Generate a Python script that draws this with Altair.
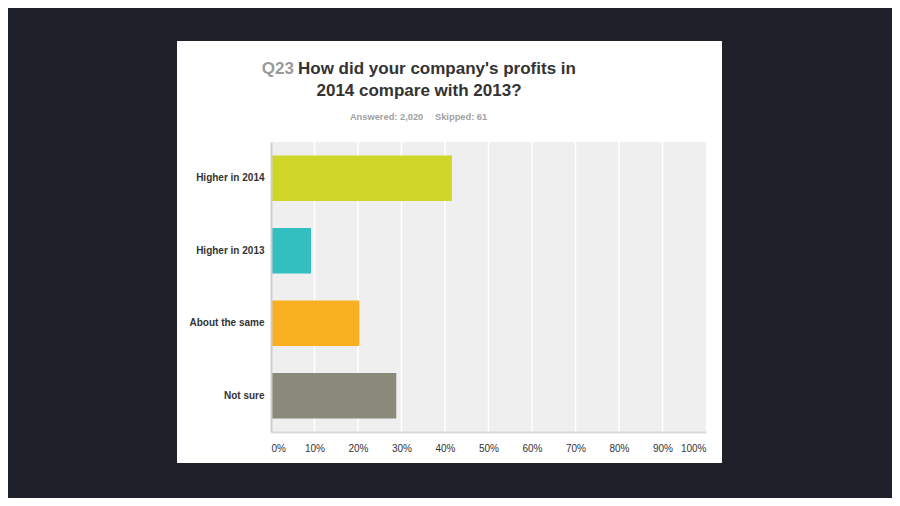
import altair as alt
import pandas as pd

# ---- data ----
categories = ["Higher in 2014", "Higher in 2013", "About the same", "Not sure"]
shares = [0.416, 0.092, 0.203, 0.288]
bar_colors = ["#d0d628", "#33bec0", "#f8b020", "#8a8a7b"]
grid_values = [0.1, 0.2, 0.3, 0.4, 0.5, 0.6, 0.7, 0.8, 0.9]
tick_values = [0.0, 0.1, 0.2, 0.3, 0.4, 0.5, 0.6, 0.7, 0.8, 0.9, 1.0]

title_q = "Q23"
title_line1 = "How did your company's profits in"
title_line2 = "2014 compare with 2013?"
answered = "Answered: 2,020"
skipped = "Skipped: 61"

FONT = "Liberation Sans, Arial, Helvetica, sans-serif"
W, H = 435, 290

bars_df = pd.DataFrame({"cat": categories, "val": shares})
grid_df = pd.DataFrame({"v": grid_values})
one = alt.Data(values=[{"a": 1}])

xscale = alt.Scale(domain=[0, 1], nice=False)
x_axis = alt.Axis(
    title=None, values=tick_values, format=".0%", labelFlush=True,
    ticks=False, grid=False, domain=True, domainColor="#d9d9d9",
    domainWidth=2, labelFontSize=10, labelColor="#333333",
    labelPadding=11, labelFont=FONT, zindex=1,
)

card = alt.Chart(one).mark_rect(color="#ffffff").encode(
    x=alt.value(-94), x2=alt.value(451), y=alt.value(-101), y2=alt.value(321)
)
plot_bg = alt.Chart(one).mark_rect(color="#efefef").encode(
    x=alt.value(0), x2=alt.value(W), y=alt.value(0), y2=alt.value(H)
)
grid = alt.Chart(grid_df).mark_rule(color="#ffffff", strokeWidth=1.5).encode(
    x=alt.X("v:Q", scale=xscale, axis=x_axis),
    y=alt.value(0),
    y2=alt.value(H),
)
bars = alt.Chart(bars_df).mark_bar().encode(
    y=alt.Y(
        "cat:N",
        sort=categories,
        scale=alt.Scale(paddingInner=0.37, paddingOuter=0.185),
        axis=alt.Axis(
            title=None, ticks=False, domain=True, domainColor="#cfcfcf",
            domainWidth=2, labelFontWeight="bold", labelFontSize=10,
            labelColor="#333333", labelPadding=7, labelFont=FONT, zindex=1,
        ),
    ),
    x=alt.X("val:Q", scale=xscale, axis=x_axis),
    color=alt.Color("cat:N", scale=alt.Scale(domain=categories, range=bar_colors), legend=None),
)


def txt(s, x, y, align, size, color, weight="bold"):
    return alt.Chart(alt.Data(values=[{"t": s}])).mark_text(
        align=align, baseline="alphabetic", fontSize=size, fontWeight=weight,
        color=color, font=FONT,
    ).encode(text="t:N", x=alt.value(x), y=alt.value(y))


titles = [
    txt(title_q, 23, -68, "right", 17, "#9a9a9a"),
    txt(title_line1, 27, -68, "left", 17, "#333333"),
    txt(title_line2, 148, -46, "center", 17, "#333333"),
    txt(answered, 152.3, -21.7, "right", 9.3, "#9f9f9f"),
    txt(skipped, 164, -21.7, "left", 9.3, "#9f9f9f"),
]

chart = alt.layer(card, plot_bg, grid, bars, *titles).properties(
    width=W,
    height=H,
    autosize=alt.AutoSizeParams(type="none"),
    padding={"left": 263, "top": 134, "right": 186, "bottom": 66},
    background="#1f212a",
).configure_view(stroke=None).configure(font=FONT)

chart.save("out.html", embed_options={"renderer": "svg", "actions": False})
